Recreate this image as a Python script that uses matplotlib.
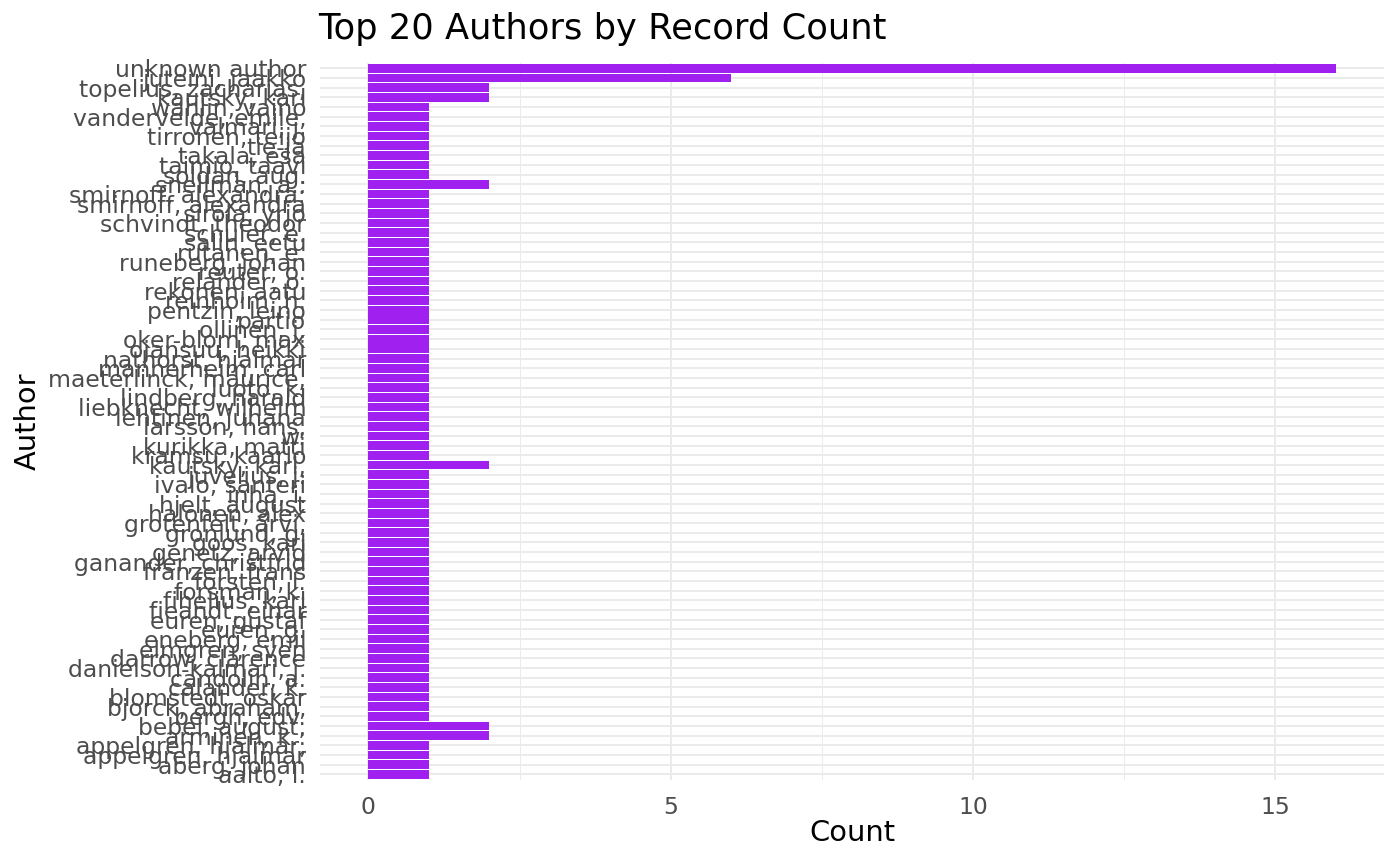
import matplotlib
matplotlib.use("Agg")
import matplotlib.pyplot as plt
from matplotlib.ticker import MultipleLocator

# authors listed top to bottom as they appear on the chart
authors = [
    "unknown author", "juteini, jaakko", "topelius, zacharias,", "kautsky, karl",
    "wahlin, vaino", "vandervelde, emile,", "valmari, j.", "tirronen, teijo",
    "tie-ja", "takala, esa", "taimio, taavi", "soldan, aug.", "snellman, a.:",
    "smirnoff, alexandra:", "smirnoff, alexandra", "sirola, yrjo", "schvindt, theodor",
    "schuler, e.", "salin, eetu", "rutanen, e.", "runeberg, johan", "reuter, o.",
    "relander, o.", "rekonen, aatu", "reinholm, h.", "pentzin, leino", "partio",
    "ollinen, j.", "oker-blom, max", "ojansuu, heikki", "nathorst, hjalmar",
    "mannerheim, carl", "maeterlinck, maurice,", "luoto, k.", "lindberg, harald",
    "liebknecht, wilhelm", "lehtinen, juhana", "larsson, hans,", "w:",
    "kurikka, matti", "kramsu, kaarlo", "kautsky, karl,", "juvelius, j.",
    "ivalo, santeri", "inha, i.", "hjelt, august", "halonen, alex",
    "grotenfelt, arvi,", "gronlund, g.", "goos, karl", "genetz, arvid",
    "ganander, christfrid", "franzen, frans", "forsten, l.", "forsman, k.",
    "fihelius, karl", "fieandt, einar", "euren, gustaf", "euren, g.",
    "eneberg, emil", "elmgren, sven", "darrow, clarence", "danielson-kalmari, j.",
    "candolin, a.", "calander, k.", "blomstedt, oskar", "bjorck, abraham,",
    "bergh, edv.", "bebel, august,", "arminen, k.:", "appelgren, hjalmar,",
    "appelgren, hjalmar", "aberg, johan", "aalto, l.",
]
counts = [16, 6, 2, 2] + [1] * 8 + [2] + [1] * 28 + [2] + [1] * 26 + [2, 2] + [1] * 4

purple = "#A020F0"
grid_col = "#EBEBEB"

fig = plt.figure(figsize=(14, 8.65), dpi=100)
ax = fig.add_axes([0.2286, 0.098, 0.76, 0.8297])

pos = list(range(len(authors)))
ax.barh(pos, counts, height=0.9, color=purple, zorder=3)

ax.set_xlim(-0.8, 16.8)
ax.set_ylim(len(authors) - 0.4, -0.6)
ax.set_yticks(pos)
ax.set_yticklabels(authors)
ax.xaxis.set_major_locator(MultipleLocator(5))
ax.xaxis.set_minor_locator(MultipleLocator(2.5))

ax.grid(True, which="major", color=grid_col, linewidth=1.4, zorder=0)
ax.grid(True, which="minor", axis="x", color=grid_col, linewidth=0.7, zorder=0)
for s in ax.spines.values():
    s.set_visible(False)
ax.tick_params(axis="both", which="both", length=0, labelsize=16.9, labelcolor="#4D4D4D")
ax.tick_params(axis="x", pad=11)
ax.tick_params(axis="y", pad=10)

fig.text(318 / 1400, 1 - 29 / 865, "Top 20 Authors by Record Count",
         fontsize=25.4, ha="left", va="center", color="black")
fig.text(852 / 1400, 1 - 833 / 865, "Count", fontsize=20.8, ha="center", va="center")
fig.text(28 / 1400, 1 - 421 / 865, "Author", fontsize=20.8, ha="center", va="center",
         rotation=90)

fig.savefig("out.png", dpi=100, facecolor="white")
